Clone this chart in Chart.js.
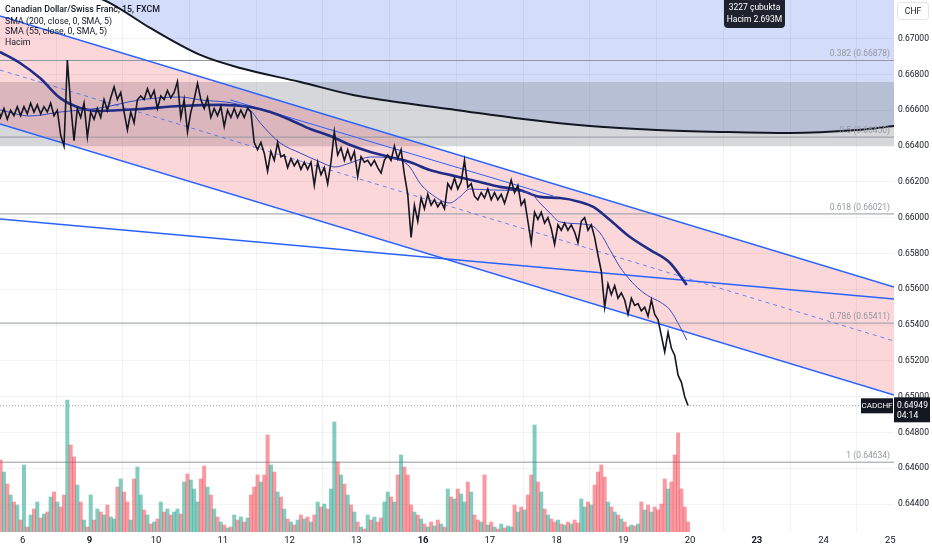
<!DOCTYPE html>
<html>
<head>
<meta charset="utf-8">
<script src="https://cdn.jsdelivr.net/npm/chart.js@4.4.1/dist/chart.umd.min.js"></script>
<style>
  html, body { margin: 0; padding: 0; background: #fff; }
  canvas { display: block; }
</style>
</head>
<body>
<canvas id="chart" width="932" height="550"></canvas>
<script>
// x is measured in trading days: 0 = Oct 6, 1 = Oct 9 ... (weekends skipped)
const dayLabels = ['6', '9', '10', '11', '12', '13', '16', '17', '18', '19', '20', '23', '24', '25'];
const boldDays = ['9', '16', '23'];
const priceTicks = [0.644, 0.646, 0.648, 0.650, 0.652, 0.654, 0.656, 0.658, 0.660, 0.662, 0.664, 0.666, 0.668, 0.670];

// sampled 15m bars (every 0.05 day), alternating highs and lows
const firstBar = -0.38;
const barStep = 0.05;
const price = [
  0.6663, 0.6656, 0.6661, 0.6655, 0.6660, 0.6657, 0.6662, 0.6657, 0.6662, 0.6658,
  0.6664, 0.6659, 0.6663, 0.6658, 0.6662, 0.6659, 0.6664, 0.6657, 0.6660, 0.6646,
  0.6640, 0.6688, 0.6663, 0.6643, 0.6661, 0.6656, 0.6664, 0.6645, 0.6659, 0.6655,
  0.6661, 0.6656, 0.6666, 0.6660, 0.6667, 0.6673, 0.6666, 0.6670, 0.6659, 0.6649,
  0.6659, 0.6653, 0.6666, 0.6668, 0.6666, 0.6672, 0.6667, 0.6671, 0.6661, 0.6668,
  0.6666, 0.6671, 0.6667, 0.6670, 0.6676, 0.6656, 0.6666, 0.6648, 0.6659, 0.6666,
  0.6675, 0.6666, 0.6661, 0.6667, 0.6656, 0.6661, 0.6657, 0.6662, 0.6651, 0.6660,
  0.6656, 0.6661, 0.6656, 0.6660, 0.6656, 0.6661, 0.6659, 0.6642, 0.6638, 0.6642,
  0.6636, 0.6626, 0.6637, 0.6632, 0.6642, 0.6634, 0.6635, 0.6628, 0.6633, 0.6629,
  0.6632, 0.6627, 0.6631, 0.6627, 0.6631, 0.6618, 0.6631, 0.6624, 0.6628, 0.6619,
  0.6631, 0.6648, 0.6635, 0.6639, 0.6632, 0.6638, 0.6632, 0.6637, 0.6623, 0.6634,
  0.6631, 0.6632, 0.6629, 0.6632, 0.6628, 0.6625, 0.6632, 0.6635, 0.6632, 0.6640,
  0.6633, 0.6638, 0.6624, 0.6613, 0.6589, 0.6607, 0.6598, 0.6611, 0.6605, 0.6613,
  0.6607, 0.6610, 0.6606, 0.6609, 0.6605, 0.6619, 0.6616, 0.6622, 0.6616, 0.6620,
  0.6632, 0.6617, 0.6619, 0.6612, 0.6610, 0.6614, 0.6611, 0.6616, 0.6610, 0.6614,
  0.6610, 0.6613, 0.6608, 0.6614, 0.6621, 0.6614, 0.6618, 0.6607, 0.6610, 0.6598,
  0.6586, 0.6603, 0.6599, 0.6603, 0.6597, 0.6600, 0.6594, 0.6585, 0.6596, 0.6593,
  0.6597, 0.6593, 0.6596, 0.6592, 0.6586, 0.6598, 0.6600, 0.6593, 0.6596, 0.6589,
  0.6579, 0.6570, 0.6550, 0.6563, 0.6557, 0.6562, 0.6555, 0.6558, 0.6554, 0.6546,
  0.6555, 0.6551, 0.6552, 0.6548, 0.6550, 0.6545, 0.6554, 0.6546, 0.6543, 0.6534,
  0.6525, 0.6536, 0.6527, 0.6523, 0.6512, 0.6508, 0.6500, 0.64949
];
const volume = [
  700, 720, 600, 480, 370, 300, 270, 120, 670, 50,
  170, 230, 300, 140, 180, 200, 350, 400, 300, 250,
  370, 1320, 870, 750, 470, 300, 120, 50, 370, 120,
  230, 200, 170, 270, 150, 130, 450, 530, 400, 300,
  120, 530, 650, 370, 220, 170, 80, 100, 130, 300,
  200, 230, 170, 200, 230, 180, 500, 580, 520, 430,
  300, 530, 660, 450, 370, 230, 150, 100, 70, 40,
  50, 170, 120, 150, 100, 140, 370, 450, 570, 500,
  570, 970, 670, 600, 400, 350, 230, 130, 100, 70,
  120, 170, 130, 150, 100, 170, 300, 250, 280, 230,
  430, 1100, 700, 570, 480, 370, 270, 200, 100, 50,
  30, 170, 120, 150, 100, 140, 300, 400, 350, 300,
  570, 770, 650, 570, 270, 200, 170, 130, 80, 50,
  100, 60, 120, 80, 50, 430, 350, 330, 430, 380,
  300, 500, 400, 170, 120, 100, 570, 70, 100, 50,
  30, 80, 40, 60, 50, 270, 200, 250, 220, 370,
  570, 1070, 500, 400, 230, 170, 130, 100, 120, 80,
  70, 100, 80, 120, 90, 330, 250, 300, 270, 470,
  600, 670, 550, 300, 250, 200, 170, 130, 100, 50,
  70, 60, 80, 300, 220, 270, 200, 250, 220, 280,
  530, 430, 500, 770, 990, 430, 250, 100
];

// moving averages (day position, price)
const sma200X = [-0.34, -0.04, 0.26, 0.56, 0.86, 1.16, 1.76, 2.36, 2.96, 3.41, 3.71, 4.01, 4.31, 4.61, 4.91, 5.21,
  5.50, 5.80, 6.10, 6.40, 6.85, 7.15, 7.45, 7.75, 8.05, 8.35, 8.55, 8.80, 9.10, 9.40, 9.70, 9.95];
const sma200 = [0.66926, 0.66864, 0.66780, 0.66669, 0.66613, 0.66596, 0.66607, 0.66624, 0.66630, 0.66618, 0.66590,
  0.66546, 0.66495, 0.66456, 0.66406, 0.66367, 0.66339, 0.66311, 0.66266, 0.66239, 0.66199, 0.66172, 0.66155,
  0.66116, 0.66110, 0.66088, 0.66060, 0.65987, 0.65892, 0.65820, 0.65747, 0.65624];
const sma55X = [-0.34, 0.11, 0.56, 1.16, 1.76, 2.36, 2.66, 3.26, 3.41, 3.56, 3.86, 4.16, 4.46, 4.68, 4.91, 5.21,
  5.65, 5.80, 5.95, 6.10, 6.40, 6.55, 6.70, 7.00, 7.60, 7.75, 7.90, 8.05, 8.50, 8.65, 8.80, 8.95, 9.10, 9.25,
  9.40, 9.55, 9.70, 9.85, 9.95];
const sma55 = [0.66602, 0.66568, 0.66590, 0.66613, 0.66658, 0.66674, 0.66658, 0.66630, 0.66602, 0.66529, 0.66417,
  0.66361, 0.66311, 0.66283, 0.66306, 0.66339, 0.66322, 0.66283, 0.66194, 0.66138, 0.66082, 0.66116, 0.66160,
  0.66155, 0.66138, 0.66082, 0.66026, 0.65976, 0.65959, 0.65915, 0.65820, 0.65724, 0.65652, 0.65596, 0.65557,
  0.65529, 0.65484, 0.65389, 0.65317];
const longMaX = [-0.34, 0.50, 1.31, 1.91, 2.66, 3.26, 4.16, 4.95, 5.50, 6.49, 7.50, 8.50, 9.50, 10.49, 11.50, 12.50, 13.06];
const longMa = [0.67440, 0.67317, 0.67199, 0.67060, 0.66909, 0.66836, 0.66758, 0.66685, 0.66652, 0.66602, 0.66551,
  0.66512, 0.66490, 0.66479, 0.66473, 0.66490, 0.66512];

// drawings
const channelX = [-0.339, 13.055];
const channelTop = [0.67127, 0.65613];
const channelMid = [0.66825, 0.65311];
const channelBottom = [0.66523, 0.65009];
const trendLong = [0.65993, 0.65545];
const trendShortX = [3.11, 7.95];
const trendShort = [0.66658, 0.66121];
const zoneTop = 0.66758, zoneBottom = 0.66401;
const fibLevels = [0.382, 0.5, 0.618, 0.786, 1];
const fibPrices = [0.66878, 0.66450, 0.66021, 0.65411, 0.64634];

const symbol = 'CADCHF', lastPrice = 0.64949, lastTime = '04:14';
const barCount = 3227, volumeSum = '2.693M';

const xMin = -0.339, xMax = 13.055, yMin = 0.64244, yMax = 0.67216;

const pts = (xs, ys) => xs.map((x, i) => ({ x, y: ys[i] }));
const flat = v => [{ x: xMin, y: v }, { x: xMax, y: v }];
const barX = price.map((_, k) => firstBar + k * barStep);
const UP = 'rgba(8,153,129,0.5)', DOWN = 'rgba(242,54,69,0.5)';
const volColors = volume.map((_, k) => price[k] >= (k ? price[k - 1] : price[k]) ? UP : DOWN);
const BLUE = '#2962ff';
const FONT = 'Roboto';

const line = (extra) => Object.assign({ type: 'line', pointRadius: 0, borderWidth: 1, tension: 0, fill: false }, extra);

const datasets = [
  line({ data: pts(longMaX, longMa), borderWidth: 0, cubicInterpolationMode: 'monotone', order: 30,
    fill: { target: 'end', above: 'rgba(0,0,0,0)', below: 'rgba(33,80,220,0.2)' } }),
  line({ data: flat(zoneTop), borderWidth: 0, order: 28 }),
  line({ data: flat(zoneBottom), borderWidth: 0, fill: 1, backgroundColor: 'rgba(120,123,134,0.3)', order: 28 }),
  line({ data: pts(channelX, channelTop), borderWidth: 0, order: 26 }),
  line({ data: pts(channelX, channelBottom), borderWidth: 0, fill: 3, backgroundColor: 'rgba(242,54,69,0.2)', order: 26 }),
  ...fibPrices.map(p => line({ data: flat(p), borderColor: '#9598a1', order: 24 })),
  { type: 'bar', yAxisID: 'vol', data: volume.map((v, k) => ({ x: barX[k], y: v })), backgroundColor: volColors,
    barPercentage: 1, categoryPercentage: 1, order: 22 },
  line({ data: pts(channelX, trendLong), borderColor: BLUE, borderWidth: 1.5, order: 12 }),
  line({ data: pts(trendShortX, trendShort), borderColor: BLUE, borderWidth: 1, order: 12 }),
  line({ data: pts(channelX, channelTop), borderColor: BLUE, borderWidth: 1.5, order: 12 }),
  line({ data: pts(channelX, channelMid), borderColor: 'rgba(41,98,255,0.7)', borderDash: [4, 4], order: 12 }),
  line({ data: pts(channelX, channelBottom), borderColor: BLUE, borderWidth: 1.5, order: 12 }),
  line({ data: pts(longMaX, longMa), borderColor: '#131722', borderWidth: 2, cubicInterpolationMode: 'monotone', order: 8 }),
  line({ data: pts(sma200X, sma200), borderColor: '#1f2d86', borderWidth: 2.6, cubicInterpolationMode: 'monotone', order: 6 }),
  line({ data: pts(sma55X, sma55), borderColor: '#3549c4', borderWidth: 1, cubicInterpolationMode: 'monotone', order: 5 }),
  line({ data: pts(barX, price), borderColor: '#131722', borderWidth: 1.6, order: 2 }),
  line({ data: flat(lastPrice), borderColor: '#9598a1', borderDash: [1, 2], order: 1 })
];

const overlay = {
  id: 'overlay',
  afterDraw(chart) {
    const { ctx, chartArea: a, scales: { y } } = chart;
    ctx.save();
    // fib labels
    ctx.font = `8.5px ${FONT}`;
    ctx.fillStyle = '#9598a1';
    ctx.textAlign = 'right';
    ctx.textBaseline = 'bottom';
    fibLevels.forEach((lv, i) => {
      ctx.fillText(`${lv} (${fibPrices[i].toFixed(5)})`, a.right - 4, y.getPixelForValue(fibPrices[i]) - 2);
    });
    // legend
    ctx.textAlign = 'left';
    ctx.textBaseline = 'middle';
    ctx.fillStyle = '#131722';
    ctx.font = `500 8.8px ${FONT}`;
    ctx.fillText('Canadian Dollar/Swiss Franc, 15, FXCM', 5, 10);
    ctx.font = `8.8px ${FONT}`;
    ctx.fillText('SMA (200, close, 0, SMA, 5)', 5, 21.5);
    ctx.fillText('SMA (55, close, 0, SMA, 5)', 5, 32);
    ctx.fillText('Hacim', 5, 42.5);
    // range tooltip
    ctx.fillStyle = '#1e222d';
    ctx.beginPath(); ctx.roundRect(724, -4, 61, 32, 4); ctx.fill();
    ctx.fillStyle = '#fff';
    ctx.textAlign = 'center';
    ctx.font = `8.5px ${FONT}`;
    ctx.fillText(`${barCount} çubukta`, 754.5, 7.5);
    ctx.fillText(`Hacim ${volumeSum}`, 754.5, 19.5);
    // currency box
    ctx.fillStyle = '#fff';
    ctx.strokeStyle = '#e0e3eb';
    ctx.beginPath(); ctx.roundRect(897.5, 2.5, 31, 17, 3); ctx.fill(); ctx.stroke();
    ctx.fillStyle = '#131722';
    ctx.fillText('CHF', 913, 11.5);
    // last price labels
    const py = y.getPixelForValue(lastPrice);
    ctx.fillStyle = '#131722';
    ctx.fillRect(861, py - 7.5, 32, 15);
    ctx.fillRect(894, py - 8.5, 36, 25);
    ctx.fillStyle = '#fff';
    ctx.font = `8px ${FONT}`;
    ctx.fillText(symbol, 877, py + 0.5);
    ctx.textAlign = 'left';
    ctx.font = `8.5px ${FONT}`;
    ctx.fillText(lastPrice.toFixed(5), 897, py);
    ctx.fillText(lastTime, 897, py + 10);
    ctx.restore();
  }
};

new Chart(document.getElementById('chart'), {
  type: 'line',
  data: { datasets },
  options: {
    responsive: false,
    animation: false,
    events: [],
    layout: { padding: 0 },
    plugins: { legend: { display: false }, tooltip: { enabled: false } },
    scales: {
      x: {
        type: 'linear', min: xMin, max: xMax, offset: false,
        afterBuildTicks: s => { s.ticks = dayLabels.map((_, i) => ({ value: i })); },
        afterFit: s => { s.height = 18; s.paddingLeft = 0; s.paddingRight = 0; },
        ticks: {
          autoSkip: false, maxRotation: 0, padding: 3, color: '#131722',
          callback: (v, i) => dayLabels[i],
          font: c => ({ family: FONT, size: 9.5, weight: boldDays.includes(dayLabels[c.index]) ? 'bold' : 'normal' })
        },
        grid: { color: 'rgba(42,46,57,0.06)', drawTicks: false },
        border: { display: false }
      },
      y: {
        type: 'linear', position: 'right', min: yMin, max: yMax,
        afterBuildTicks: s => { s.ticks = priceTicks.map(v => ({ value: v })); },
        afterFit: s => { s.width = 38; s.paddingTop = 0; s.paddingBottom = 0; },
        ticks: { padding: 4, color: '#131722', font: { family: FONT, size: 8.5 }, callback: v => v.toFixed(5) },
        grid: { color: 'rgba(42,46,57,0.06)', drawTicks: false },
        border: { display: false }
      },
      vol: { type: 'linear', display: false, min: 0, max: 5320 }
    }
  },
  plugins: [overlay]
});
</script>
</body>
</html>
